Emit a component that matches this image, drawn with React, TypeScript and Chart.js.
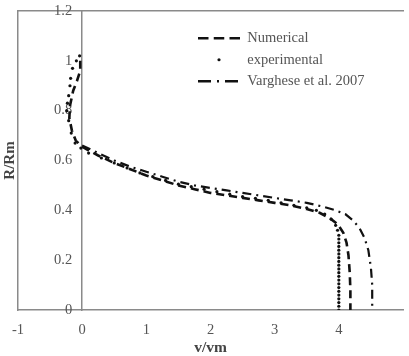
import { useEffect, useRef } from 'react';
import { Chart, registerables } from 'chart.js';

Chart.register(...registerables);

// ---- Data (v/vm, R/Rm) ----
const numericalV = [-0.03, -0.03, -0.08, -0.14, -0.19, -0.2, -0.16, -0.1, 0, 0.25, 0.5, 0.75, 1, 1.25, 1.5, 1.75, 2, 2.25, 2.5, 2.75, 3, 3.25, 3.5, 3.7, 3.85, 3.98, 4.07, 4.12, 4.15, 4.17, 4.18, 4.18];
const numericalR = [1.0, 0.96, 0.92, 0.88, 0.82, 0.77, 0.72, 0.68, 0.655, 0.62, 0.59, 0.565, 0.54, 0.52, 0.5, 0.485, 0.47, 0.46, 0.45, 0.44, 0.43, 0.42, 0.405, 0.39, 0.37, 0.345, 0.31, 0.27, 0.22, 0.15, 0.08, 0];

const experimentalV = [-0.04, -0.09, -0.15, -0.18, -0.19, -0.21, -0.23, -0.24, -0.21, -0.17, -0.11, -0.02, 0.1, 0.3, 0.5, 0.7, 0.9, 1.1, 1.3, 1.5, 1.7, 1.9, 2.1, 2.3, 2.5, 2.7, 2.9, 3.1, 3.3, 3.5, 3.65, 3.78, 3.88, 3.95, 3.98, 4.0, 4.0, 4.0, 4.0, 4.0, 4.0, 4.0, 4.0, 4.0, 4.0, 4.0, 4.0, 4.0, 4.0, 4.0, 4.0, 4.0, 4.0, 4.0, 4.0, 4.0];
const experimentalR = [1.02, 1.0, 0.97, 0.93, 0.9, 0.86, 0.83, 0.8, 0.76, 0.71, 0.67, 0.65, 0.63, 0.61, 0.59, 0.57, 0.55, 0.535, 0.52, 0.505, 0.495, 0.485, 0.475, 0.465, 0.455, 0.448, 0.44, 0.43, 0.42, 0.41, 0.4, 0.385, 0.365, 0.34, 0.32, 0.3, 0.285, 0.27, 0.255, 0.24, 0.225, 0.21, 0.195, 0.18, 0.165, 0.15, 0.135, 0.12, 0.105, 0.09, 0.075, 0.06, 0.045, 0.03, 0.015, 0];

const vargheseV = [0, 0.25, 0.5, 0.75, 1, 1.25, 1.5, 1.75, 2, 2.25, 2.5, 2.75, 3, 3.25, 3.5, 3.75, 3.95, 4.1, 4.22, 4.32, 4.4, 4.46, 4.5, 4.52, 4.52];
const vargheseR = [0.66, 0.63, 0.6, 0.575, 0.555, 0.535, 0.515, 0.5, 0.49, 0.48, 0.47, 0.46, 0.45, 0.44, 0.43, 0.415, 0.4, 0.385, 0.36, 0.33, 0.29, 0.24, 0.17, 0.1, 0];

const seriesLabels = ['Numerical', 'experimental', 'Varghese et al. 2007'];
const xTickLabels = ['-1', '0', '1', '2', '3', '4', ''];
const yTickLabels = ['0', '0.2', '0.4', '0.6', '0.8', '1', '1.2'];

const toPoints = (xs: number[], ys: number[]) => xs.map((x, i) => ({ x, y: ys[i] }));

const FONT = 'Liberation Serif';
const AXIS_GRAY = '#8a8a8a';
const TEXT_GRAY = '#555';

const legendDash = [[10.5, 5.25], [0, 42], [13, 6, 2, 6]];

const legendPlacer = {
  id: 'legendPlacer',
  afterLayout(chart: any) {
    const lg = chart.legend;
    if (!lg) return;
    const L = 191;
    const T = 24;
    lg.left = L;
    lg.top = T;
    lg.right = L + 200;
    lg.bottom = chart.chartArea.bottom;
  },
};

export default function App() {
  const ref = useRef<HTMLCanvasElement>(null);

  useEffect(() => {
    if (!ref.current) return;
    const chart = new Chart(ref.current, {
      type: 'scatter',
      data: {
        datasets: [
          {
            label: seriesLabels[0],
            data: toPoints(numericalV, numericalR),
            showLine: true,
            borderColor: '#111',
            borderWidth: 2.6,
            borderDash: [8, 5],
            pointRadius: 0,
            fill: false,
          },
          {
            label: seriesLabels[1],
            data: toPoints(experimentalV, experimentalR),
            showLine: false,
            pointRadius: 1.6,
            pointBorderWidth: 0,
            pointBackgroundColor: '#111',
            borderColor: '#111',
          },
          {
            label: seriesLabels[2],
            data: toPoints(vargheseV, vargheseR),
            showLine: true,
            borderColor: '#111',
            borderWidth: 2.2,
            borderDash: [9, 5, 2, 5],
            pointRadius: 0,
            fill: false,
          },
        ],
      },
      options: {
        animation: false,
        responsive: false,
        devicePixelRatio: 1,
        layout: { padding: { left: 0, top: 0, right: 2.5, bottom: 0 } },
        plugins: {
          tooltip: { enabled: false },
          legend: {
            position: 'chartArea' as any,
            align: 'start',
            labels: {
              usePointStyle: true,
              pointStyleWidth: 42,
              padding: 7,
              color: TEXT_GRAY,
              font: { family: FONT, size: 14.5 },
              generateLabels: (c: any) =>
                c.data.datasets.map((ds: any, i: number) => ({
                  text: ds.label,
                  datasetIndex: i,
                  pointStyle: 'line',
                  strokeStyle: '#111',
                  fillStyle: '#111',
                  lineWidth: i === 1 ? 3.2 : 2.6,
                  lineDash: legendDash[i],
                  lineDashOffset: i === 1 ? -21 : 0,
                  lineCap: i === 1 ? 'round' : 'butt',
                  fontColor: TEXT_GRAY,
                  hidden: false,
                })),
            },
          },
        },
        scales: {
          x: {
            type: 'linear',
            position: 'bottom',
            min: -1,
            max: 5,
            afterFit: (s: any) => { s.height = 46; },
            afterBuildTicks: (s: any) => {
              s.ticks = xTickLabels.map((_, i) => ({ value: -1 + i }));
            },
            ticks: {
              stepSize: 1,
              padding: 11,
              color: TEXT_GRAY,
              font: { family: FONT, size: 14.5 },
              callback: (_v: any, i: number) => xTickLabels[i],
            },
            grid: { display: false, drawTicks: false },
            border: { display: true, color: AXIS_GRAY, width: 1.5 },
            title: {
              display: true,
              text: 'v/vm',
              color: '#444',
              font: { family: FONT, size: 15.5, weight: 'bold' },
              padding: { top: 0, bottom: -1 },
            },
          },
          x2: {
            type: 'linear',
            axis: 'x',
            position: 'top',
            min: -1,
            max: 5,
            afterFit: (s: any) => { s.height = 11; },
            ticks: { display: false },
            grid: { display: false, drawTicks: false },
            border: { display: true, color: AXIS_GRAY, width: 1.5 },
          },
          y: {
            type: 'linear',
            position: { x: 0 } as any,
            min: 0,
            max: 1.2,
            ticks: { display: false, stepSize: 0.2 },
            grid: { display: false, drawTicks: false },
            border: { display: true, color: AXIS_GRAY, width: 1.5 },
          },
          y2: {
            type: 'linear',
            axis: 'y',
            position: 'left',
            min: 0,
            max: 1.2,
            afterFit: (s: any) => {
              s.width = 18;
              s.paddingTop = 0;
              s.paddingBottom = 0;
            },
            afterBuildTicks: (s: any) => {
              s.ticks = yTickLabels.map((_, i) => ({ value: i * 0.2 }));
            },
            ticks: {
              display: true,
              mirror: true,
              crossAlign: 'far',
              padding: 36,
              color: TEXT_GRAY,
              font: { family: FONT, size: 14.5 },
              callback: (_v: any, i: number) => yTickLabels[i],
            },
            grid: { display: false, drawTicks: false },
            border: { display: true, color: AXIS_GRAY, width: 1.5 },
            title: {
              display: true,
              text: 'R/Rm',
              color: '#444',
              font: { family: FONT, size: 15, weight: 'bold' },
              padding: { top: 1, bottom: 0 },
            },
          },
        },
      },
      plugins: [legendPlacer],
    });
    return () => chart.destroy();
  }, []);

  return (
    <div style={{ position: 'fixed', left: 0, top: 0, width: 409, height: 356, overflow: 'hidden', background: '#fff' }}>
      <canvas ref={ref} width={414} height={356} style={{ display: 'block' }} />
    </div>
  );
}
